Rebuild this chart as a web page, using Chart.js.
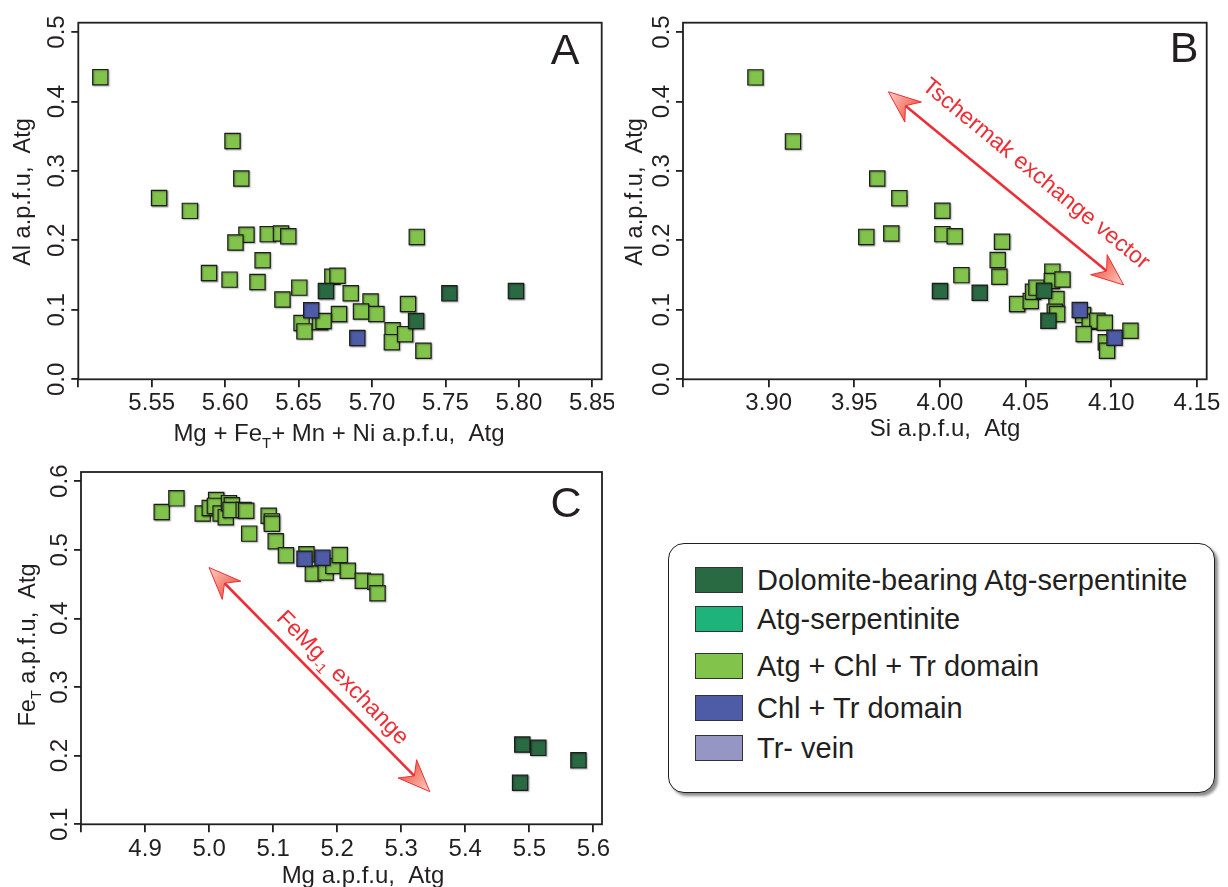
<!DOCTYPE html>
<html>
<head>
<meta charset="utf-8">
<script src="https://cdn.jsdelivr.net/npm/chart.js@4.4.1/dist/chart.umd.min.js"></script>
<style>
  html, body { margin: 0; padding: 0; background: #fff; }
  body { width: 1228px; height: 887px; position: relative; overflow: hidden;
         font-family: "Liberation Sans", Arial, sans-serif; color: #231f20; }
  canvas { position: absolute; }
  #chartA { left: 0; top: 0; }
  #chartB { left: 614px; top: 0; }
  #chartC { left: 0; top: 460px; }
  #legend { position: absolute; left: 668px; top: 543px; width: 547px; height: 250px; box-sizing: border-box;
            border: 1.5px solid #231f20; border-radius: 16px; background: #fff;
            box-shadow: 3px 3px 3px rgba(0, 0, 0, 0.45); }
  .item { position: absolute; left: 26px; height: 28px; display: flex; align-items: center; }
  .swatch { width: 48px; height: 26px; box-sizing: border-box; border: 1px solid #333; margin-right: 14px; }
  .item span { font-size: 29px; white-space: nowrap; line-height: 28px; }
</style>
</head>
<body>
<canvas id="chartA" width="614" height="460"></canvas>
<canvas id="chartB" width="614" height="460"></canvas>
<canvas id="chartC" width="614" height="427"></canvas>
<div id="legend"></div>
<script>
// Groups and colours
const groupNames = ["Dolomite-bearing Atg-serpentinite", "Atg-serpentinite", "Atg + Chl + Tr domain", "Chl + Tr domain", "Tr- vein"];
const groupColors = ["#2a6a42", "#1db37b", "#82c34c", "#4e5ba6", "#9596c3"];

// Panel A: Mg + FeT + Mn + Ni vs Al (a.p.f.u.)
const aAtgChlTr = [[5.515, 0.435], [5.605, 0.343], [5.611, 0.289], [5.555, 0.261], [5.576, 0.2425], [5.6145, 0.208],
  [5.607, 0.197], [5.629, 0.209], [5.638, 0.210], [5.643, 0.206], [5.6255, 0.1715], [5.589, 0.153], [5.603, 0.1435],
  [5.622, 0.140], [5.639, 0.115], [5.6505, 0.132], [5.673, 0.1475], [5.6765, 0.149], [5.6855, 0.124], [5.699, 0.112],
  [5.6775, 0.094], [5.6925, 0.0975], [5.703, 0.094], [5.7245, 0.1085], [5.7305, 0.205], [5.652, 0.081], [5.654, 0.069],
  [5.6645, 0.0825], [5.667, 0.084], [5.714, 0.0705], [5.7135, 0.0535], [5.7225, 0.065], [5.735, 0.041]];
const aDolomite = [[5.6686, 0.127], [5.730, 0.084], [5.7527, 0.124], [5.798, 0.127]];
const aChlTr = [[5.6586, 0.0994], [5.690, 0.0595]];

// Panel B: Si vs Al
const bAtgChlTr = [[3.8923, 0.4347], [3.9142, 0.3425], [3.9634, 0.289], [3.9763, 0.2608], [3.957, 0.205], [3.9716, 0.210],
  [4.0014, 0.2426], [4.0014, 0.209], [4.0086, 0.206], [4.0362, 0.198], [4.0337, 0.1717], [4.0347, 0.1477], [4.0125, 0.150],
  [4.045, 0.1083], [4.053, 0.1127], [4.0543, 0.126], [4.0563, 0.132], [4.0656, 0.155], [4.0653, 0.1414], [4.0715, 0.1438],
  [4.068, 0.1155], [4.067, 0.0973], [4.0684, 0.094], [4.0835, 0.0925], [4.0874, 0.0829], [4.0919, 0.0843], [4.0962, 0.0815],
  [4.0839, 0.0652], [4.0968, 0.0532], [4.0975, 0.0412], [4.1112, 0.070]];
const bDolomite = [[4.000, 0.127], [4.0232, 0.1247], [4.0607, 0.1275], [4.0633, 0.0843]];
const bChlTr = [[4.0816, 0.0997], [4.1019, 0.0599]];

// Panel C: Mg vs FeT
const cAtgChlTr = [[4.926, 0.555], [4.949, 0.575], [4.990, 0.553], [5.001, 0.561], [5.011, 0.5726], [5.009, 0.564],
  [5.018, 0.553], [5.026, 0.5476], [5.031, 0.568], [5.0355, 0.565], [5.0336, 0.558], [5.054, 0.558], [5.058, 0.557],
  [5.0626, 0.5236], [5.093, 0.5496], [5.098, 0.5414], [5.098, 0.538], [5.104, 0.5126], [5.120, 0.492], [5.152, 0.4934],
  [5.162, 0.4655], [5.182, 0.467], [5.194, 0.4766], [5.204, 0.4924], [5.2165, 0.4694], [5.240, 0.455], [5.2596, 0.4535],
  [5.263, 0.4367]];
const cDolomite = [[5.489, 0.2162], [5.514, 0.2114], [5.5767, 0.1932], [5.4856, 0.1605]];
const cChlTr = [[5.149, 0.4871], [5.177, 0.4886]];

// Axis ticks
const ticksAx = [5.50, 5.55, 5.60, 5.65, 5.70, 5.75, 5.80, 5.85];
const ticksBx = [3.85, 3.90, 3.95, 4.00, 4.05, 4.10, 4.15];
const ticksCx = [4.8, 4.9, 5.0, 5.1, 5.2, 5.3, 5.4, 5.5, 5.6];
const ticksAl = [0.0, 0.1, 0.2, 0.3, 0.4, 0.5];
const ticksFe = [0.1, 0.2, 0.3, 0.4, 0.5, 0.6];

const INK = "#231f20";
const RED = "#ee2e36";
const FONT = '"Liberation Sans", Arial, sans-serif';

// Legend box
const legendEl = document.getElementById("legend");
const rowTop = [22, 61, 108, 150, 190];
groupNames.forEach((name, i) => {
  const row = document.createElement("div");
  row.className = "item";
  row.style.top = rowTop[i] + "px";
  const sw = document.createElement("div");
  sw.className = "swatch";
  sw.style.background = groupColors[i];
  const label = document.createElement("span");
  label.textContent = name;
  row.appendChild(sw);
  row.appendChild(label);
  legendEl.appendChild(row);
});

function series(points, color) {
  return {
    data: points.map(([x, y]) => ({ x, y })),
    pointStyle: "rect",
    pointRadius: 10.8,
    pointHoverRadius: 10.8,
    backgroundColor: color,
    borderColor: "#1d1d1b",
    borderWidth: 1.2
  };
}

function axis(min, max, ticks, size, tickLen) {
  return {
    type: "linear",
    min, max,
    afterBuildTicks: s => { s.ticks = ticks.map(v => ({ value: v })); },
    afterFit: s => { if (s.isHorizontal()) s.height = size; else s.width = size; },
    ticks: { display: false },
    grid: { drawOnChartArea: false, drawTicks: true, tickLength: tickLen, color: INK, lineWidth: 1.8 },
    border: { display: false }
  };
}

// Text with subscripts, centred on x, baseline y
function richWidth(ctx, parts, size) {
  let w = 0;
  parts.forEach(p => {
    ctx.font = (p.sub ? size * 0.62 : size) + "px " + FONT;
    w += ctx.measureText(p.t).width;
  });
  return w;
}
function drawRich(ctx, parts, size, x, y) {
  ctx.textAlign = "left";
  ctx.textBaseline = "alphabetic";
  let cx = x - richWidth(ctx, parts, size) / 2;
  parts.forEach(p => {
    ctx.font = (p.sub ? size * 0.62 : size) + "px " + FONT;
    ctx.fillText(p.t, cx, p.sub ? y + size * 0.28 : y);
    cx += ctx.measureText(p.t).width;
  });
}

function arrowHead(ctx, tx, ty, ux, uy) {
  const L = 32, W = 13, N = 22;
  const nx = -uy, ny = ux;
  const g = ctx.createLinearGradient(tx, ty, tx + ux * L, ty + uy * L);
  g.addColorStop(0, "#fcd3c8");
  g.addColorStop(1, "#f0604f");
  ctx.beginPath();
  ctx.moveTo(tx, ty);
  ctx.lineTo(tx + ux * L + nx * W, ty + uy * L + ny * W);
  ctx.lineTo(tx + ux * N, ty + uy * N);
  ctx.lineTo(tx + ux * L - nx * W, ty + uy * L - ny * W);
  ctx.closePath();
  ctx.fillStyle = g;
  ctx.fill();
  ctx.lineWidth = 1;
  ctx.strokeStyle = RED;
  ctx.stroke();
}

// Frame, tick labels, titles, panel letter and exchange arrows
const decor = {
  id: "decor",
  beforeDatasetsDraw(chart) {
    const ctx = chart.ctx;
    ctx.save();
    ctx.shadowColor = "rgba(0,0,0,0.35)";
    ctx.shadowOffsetX = 1;
    ctx.shadowOffsetY = 1;
    ctx.shadowBlur = 1.5;
  },
  afterDatasetsDraw(chart) {
    chart.ctx.restore();
  },
  afterDraw(chart, args, o) {
    const { ctx, chartArea: a, scales: { x, y } } = chart;
    ctx.save();
    ctx.strokeStyle = INK;
    ctx.lineWidth = 1.8;
    ctx.strokeRect(a.left, a.top, a.right - a.left, a.bottom - a.top);

    ctx.fillStyle = INK;
    ctx.font = "24px " + FONT;
    ctx.textAlign = "center";
    ctx.textBaseline = "alphabetic";
    x.ticks.forEach((t, i) => {
      if (i === 0) return;
      ctx.fillText(t.value.toFixed(o.xDec), x.getPixelForValue(t.value), a.bottom + o.xLabelGap);
    });
    y.ticks.forEach(t => {
      ctx.save();
      ctx.translate(a.left - 14, y.getPixelForValue(t.value));
      ctx.rotate(-Math.PI / 2);
      ctx.fillText(t.value.toFixed(1), 0, 0);
      ctx.restore();
    });

    drawRich(ctx, o.xTitle.parts, 24, o.xTitle.x, o.xTitle.y);
    ctx.save();
    ctx.translate(o.yTitle.x, o.yTitle.y);
    ctx.rotate(-Math.PI / 2);
    drawRich(ctx, o.yTitle.parts, 23.5, 0, 0);
    ctx.restore();

    ctx.font = "43px " + FONT;
    ctx.textAlign = "center";
    ctx.fillText(o.letter.t, o.letter.x, o.letter.y);

    if (o.arrow) {
      const r = o.arrow;
      const x1 = x.getPixelForValue(r.from[0]), y1 = y.getPixelForValue(r.from[1]);
      const x2 = x.getPixelForValue(r.to[0]), y2 = y.getPixelForValue(r.to[1]);
      const len = Math.hypot(x2 - x1, y2 - y1);
      const ux = (x2 - x1) / len, uy = (y2 - y1) / len;
      ctx.beginPath();
      ctx.moveTo(x1 + ux * 20, y1 + uy * 20);
      ctx.lineTo(x2 - ux * 20, y2 - uy * 20);
      ctx.strokeStyle = RED;
      ctx.lineWidth = 2.6;
      ctx.stroke();
      arrowHead(ctx, x1, y1, ux, uy);
      arrowHead(ctx, x2, y2, -ux, -uy);

      ctx.save();
      ctx.translate(x.getPixelForValue(r.at[0]), y.getPixelForValue(r.at[1]));
      ctx.rotate(Math.atan2(uy, ux));
      ctx.fillStyle = RED;
      drawRich(ctx, r.parts, 23, 0, 8);
      ctx.restore();
    }
    ctx.restore();
  }
};

function makePanel(id, cfg) {
  return new Chart(document.getElementById(id), {
    type: "scatter",
    data: { datasets: cfg.datasets },
    options: {
      responsive: false,
      animation: false,
      events: [],
      layout: { padding: cfg.padding },
      plugins: { legend: { display: false }, tooltip: { enabled: false }, decor: cfg.decor },
      scales: {
        x: axis(cfg.x[0], cfg.x[1], cfg.x[2], cfg.xSize, 8),
        y: axis(cfg.y[0], cfg.y[1], cfg.y[2], cfg.ySize, 7)
      }
    },
    plugins: [decor]
  });
}

// Draw order: first dataset ends up on top
makePanel("chartA", {
  datasets: [series(aChlTr, groupColors[3]), series(aDolomite, groupColors[0]), series(aAtgChlTr, groupColors[2])],
  padding: { left: 0, top: 22.7, right: 12.3, bottom: 0 },
  x: [5.5, 5.8564, ticksAx], xSize: 80.7,
  y: [0, 0.5134, ticksAl], ySize: 78.3,
  decor: {
    xDec: 2, xLabelGap: 31,
    xTitle: { parts: [{ t: "Mg + Fe" }, { t: "T", sub: true }, { t: "+ Mn + Ni a.p.f.u,  Atg" }], x: 339, y: 441 },
    yTitle: { parts: [{ t: "Al a.p.f.u,  Atg" }], x: 29.5, y: 192 },
    letter: { t: "A", x: 565, y: 63.5 }
  }
});

makePanel("chartB", {
  datasets: [series(bChlTr, groupColors[3]), series(bDolomite, groupColors[0]), series(bAtgChlTr, groupColors[2])],
  padding: { left: 0, top: 22.7, right: 21.3, bottom: 0 },
  x: [3.85, 4.1557, ticksBx], xSize: 80.7,
  y: [0, 0.5134, ticksAl], ySize: 69,
  decor: {
    xDec: 2, xLabelGap: 31,
    xTitle: { parts: [{ t: "Si a.p.f.u,  Atg" }], x: 331, y: 436 },
    yTitle: { parts: [{ t: "Al a.p.f.u,  Atg" }], x: 27.5, y: 192 },
    letter: { t: "B", x: 570, y: 62 },
    arrow: { from: [3.9699, 0.414], to: [4.1072, 0.1358], at: [4.0565, 0.297],
             parts: [{ t: "Tschermak exchange vector" }] }
  }
});

makePanel("chartC", {
  datasets: [series(cChlTr, groupColors[3]), series(cDolomite, groupColors[0]), series(cAtgChlTr, groupColors[2])],
  padding: { left: 0, top: 7.4, right: 10.7, bottom: 0 },
  x: [4.8, 5.6135, ticksCx], xSize: 62.7,
  y: [0.1, 0.6134, ticksFe], ySize: 81,
  decor: {
    xDec: 1, xLabelGap: 32,
    xTitle: { parts: [{ t: "Mg a.p.f.u,  Atg" }], x: 363, y: 423 },
    yTitle: { parts: [{ t: "Fe" }, { t: "T", sub: true }, { t: " a.p.f.u,  Atg" }], x: 34.5, y: 185 },
    letter: { t: "C", x: 566, y: 57 },
    arrow: { from: [5.0, 0.4742], to: [5.3446, 0.1476], at: [5.2097, 0.3148],
             parts: [{ t: "FeMg" }, { t: "-1", sub: true }, { t: " exchange" }] }
  }
});
</script>
</body>
</html>
